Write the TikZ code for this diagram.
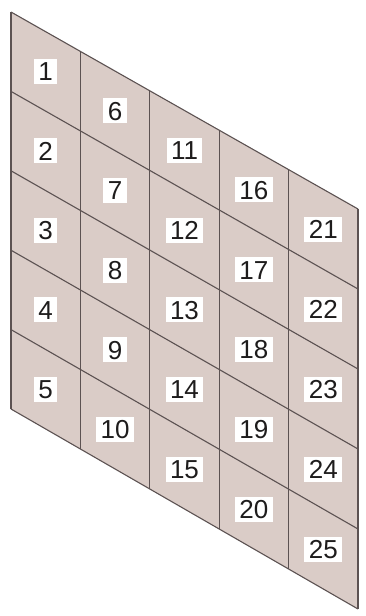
\documentclass[tikz,border=0pt]{standalone}
\usepackage{fontspec}
\setmainfont{Liberation Sans}
\usetikzlibrary{calc}
\definecolor{cellc}{RGB}{218,204,199}
\definecolor{linec}{RGB}{92,82,82}
\definecolor{digitc}{RGB}{30,28,28}
\begin{document}
\begin{tikzpicture}[x=1pt,y=-1pt,
  gridline/.style={draw=linec, line width=1.1pt},
  lbl/.style={fill=white, text=digitc, font=\fontsize{26}{30}\selectfont,
    inner xsep=4.5pt, inner ysep=3pt, text height=19pt, text depth=0pt}]
\useasboundingbox (0,0) rectangle (366,616);
\coordinate (TL) at (11,12);
\coordinate (TR) at (358,209);
\coordinate (BR) at (358,609);
\coordinate (BL) at (11,409);
\fill[cellc] (TL) -- (TR) -- (BR) -- (BL) -- cycle;
\foreach \k in {0,...,5}{
  \draw[gridline] ($(TL)!\k/5!(BL)$) -- ($(TR)!\k/5!(BR)$);
  \draw[gridline] ($(TL)!\k/5!(TR)$) -- ($(BL)!\k/5!(BR)$);
}
\foreach \c in {0,...,4}{
  \foreach \r in {0,...,4}{
    \pgfmathtruncatemacro{\n}{5*\c+\r+1}
    \node[lbl] (n\n) at ($($(TL)!{(\c+0.5)/5}!(TR)$)!{(\r+0.5)/5}!($(BL)!{(\c+0.5)/5}!(BR)$)$) {\n};
  }
}
\end{tikzpicture}
\end{document}
